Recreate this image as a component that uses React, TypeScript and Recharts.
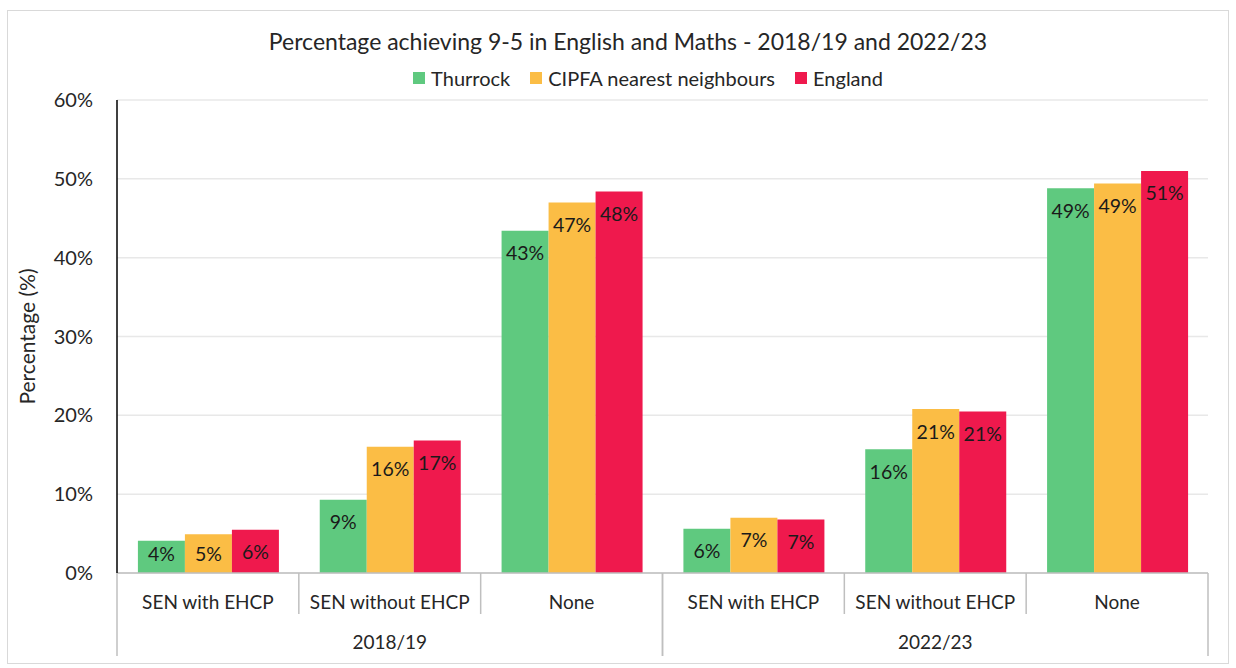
import { Bar, BarChart, CartesianGrid, XAxis, YAxis } from "recharts";

const categories = [
  "SEN with EHCP",
  "SEN without EHCP",
  "None",
  "SEN with EHCP",
  "SEN without EHCP",
  "None",
];
const years = ["2018/19", "2018/19", "2018/19", "2022/23", "2022/23", "2022/23"];
const thurrock = [4.1, 9.3, 43.4, 5.6, 15.7, 48.8];
const cipfa = [4.9, 16.0, 47.0, 7.0, 20.8, 49.4];
const england = [5.5, 16.8, 48.4, 6.8, 20.5, 51.0];
const yTicks = [0, 10, 20, 30, 40, 50, 60];

const series = [
  { key: "thurrock", name: "Thurrock", color: "#5FC97F" },
  { key: "cipfa", name: "CIPFA nearest neighbours", color: "#FBBD45" },
  { key: "england", name: "England", color: "#EF194D" },
];

const data = categories.map((cat, i) => ({
  cat,
  year: years[i],
  thurrock: thurrock[i],
  cipfa: cipfa[i],
  england: england[i],
}));

const FONT = "Lato, 'Liberation Sans', sans-serif";
const TEXT = "#262626";
const AXIS_GREY = "#BFBFBF";
const PLOT_LEFT = 117;
const PLOT_RIGHT = 1208;
const AXIS_Y = 573;
const BAND = (PLOT_RIGHT - PLOT_LEFT) / categories.length;

function CategoryTick({ x, payload, index }: any) {
  const rightEdge = x + BAND / 2;
  const isGroupEnd = index === 2 || index === 5;
  return (
    <g>
      <text
        x={x}
        y={AXIS_Y + 28}
        textAnchor="middle"
        dominantBaseline="central"
        fontSize={19}
        fontFamily={FONT}
        fill={TEXT}
      >
        {payload.value}
      </text>
      {!isGroupEnd && (
        <line x1={rightEdge} x2={rightEdge} y1={AXIS_Y} y2={AXIS_Y + 41} stroke={AXIS_GREY} strokeWidth={1.5} />
      )}
    </g>
  );
}

function YearTick({ x, payload }: any) {
  const half = (BAND * 3) / 2;
  return (
    <g>
      <text
        x={x}
        y={AXIS_Y + 68}
        textAnchor="middle"
        dominantBaseline="central"
        fontSize={19}
        fontFamily={FONT}
        fill={TEXT}
      >
        {payload.value}
      </text>
      <line x1={x - half} x2={x - half} y1={AXIS_Y} y2={AXIS_Y + 83} stroke={AXIS_GREY} strokeWidth={1.5} />
      <line x1={x + half} x2={x + half} y1={AXIS_Y} y2={AXIS_Y + 83} stroke={AXIS_GREY} strokeWidth={1.5} />
    </g>
  );
}

function ValueLabel({ x, y, width, height, value }: any) {
  const cy = Math.min(y + 22, y + height - 20);
  return (
    <text
      x={x + width / 2}
      y={cy}
      textAnchor="middle"
      dominantBaseline="central"
      fontSize={19.5}
      fontFamily={FONT}
      fill="#1a1a1a"
    >
      {Math.round(value)}%
    </text>
  );
}

function ChartLegend() {
  return (
    <div
      style={{
        position: "absolute",
        top: 66,
        left: 30,
        width: 1236,
        display: "flex",
        justifyContent: "center",
        gap: 20,
        fontFamily: FONT,
        fontSize: 20,
        color: TEXT,
      }}
    >
      {series.map((s) => (
        <div key={s.key} style={{ display: "flex", alignItems: "center", gap: 6 }}>
          <span style={{ width: 12, height: 12, background: s.color, display: "inline-block" }} />
          <span>{s.name}</span>
        </div>
      ))}
    </div>
  );
}

export default function App() {
  return (
    <div style={{ position: "absolute", left: 0, top: 0, width: 1236, height: 668, background: "#fff" }}>
      <div
        style={{
          position: "absolute",
          left: 7,
          top: 10,
          width: 1222,
          height: 654,
          border: "1px solid #D9D9D9",
          boxSizing: "border-box",
        }}
      />
      <div
        style={{
          position: "absolute",
          top: 27,
          left: 0,
          width: 1256,
          textAlign: "center",
          fontFamily: FONT,
          fontSize: 23,
          color: TEXT,
        }}
      >
        Percentage achieving 9-5 in English and Maths - 2018/19 and 2022/23
      </div>
      <ChartLegend />
      <BarChart
        width={1236}
        height={668}
        data={data}
        margin={{ top: 100, right: 1236 - PLOT_RIGHT, bottom: 0, left: 0 }}
        barCategoryGap="11.5%"
        barGap={0}
        style={{ position: "absolute", left: 0, top: 0 }}
      >
        <CartesianGrid vertical={false} stroke="#E8E8E8" strokeWidth={1.5} />
        <XAxis
          dataKey="cat"
          height={40}
          axisLine={{ stroke: AXIS_GREY, strokeWidth: 1.5 }}
          tickLine={false}
          interval={0}
          tick={<CategoryTick />}
        />
        <XAxis
          xAxisId="group"
          dataKey="year"
          height={55}
          allowDuplicatedCategory={false}
          axisLine={false}
          tickLine={false}
          interval={0}
          tick={<YearTick />}
        />
        <YAxis
          width={PLOT_LEFT}
          domain={[0, 60]}
          ticks={yTicks}
          tickFormatter={(v: number) => `${v}%`}
          axisLine={{ stroke: "#000", strokeWidth: 1.5 }}
          tickLine={false}
          tickMargin={18}
          tick={{ fontSize: 20, fontFamily: FONT, fill: TEXT }}
          label={{
            value: "Percentage (%)",
            angle: -90,
            position: "insideLeft",
            offset: 28,
            style: { fontSize: 21, fontFamily: FONT, fill: TEXT, textAnchor: "middle" },
          }}
        />
        {series.map((s) => (
          <Bar key={s.key} dataKey={s.key} name={s.name} fill={s.color} isAnimationActive={false} label={<ValueLabel />} />
        ))}
      </BarChart>
    </div>
  );
}
